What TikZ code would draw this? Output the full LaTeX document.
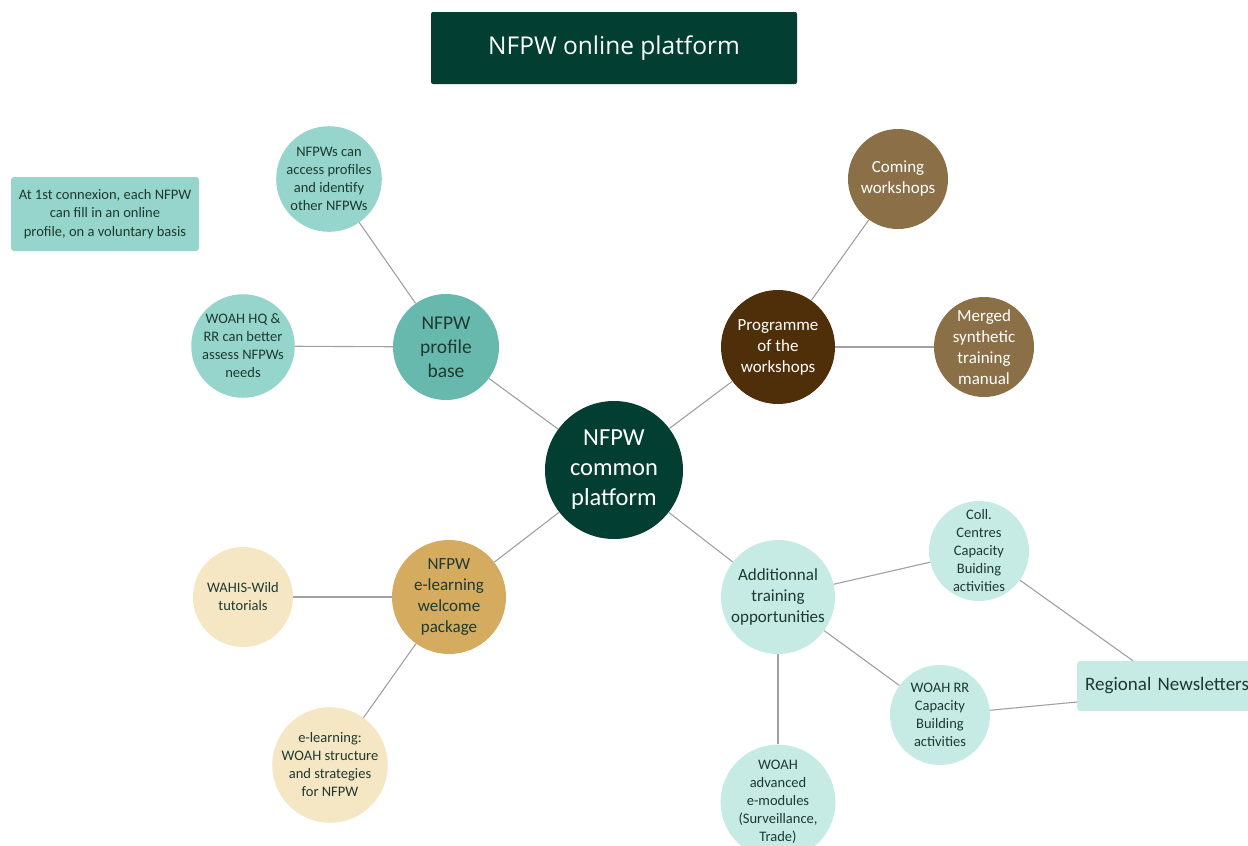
\documentclass[tikz,border=0pt]{standalone}
\usepackage{fontspec}
\setmainfont{Carlito}
\newfontfamily\titlefont{Open Sans}
\definecolor{dkgreen}{HTML}{023E31}
\definecolor{tealmid}{HTML}{67B8AD}
\definecolor{teallight}{HTML}{95D5CB}
\definecolor{browndark}{HTML}{4F2E0A}
\definecolor{brownmid}{HTML}{8B6F47}
\definecolor{gold}{HTML}{D4AB5F}
\definecolor{cream}{HTML}{F5E6C4}
\definecolor{paleaqua}{HTML}{C6EAE4}
\definecolor{txtdark}{HTML}{1E3A2F}
\definecolor{linegray}{HTML}{A0A0A0}
\begin{document}
\begin{tikzpicture}[x=1pt,y=-1pt,
  bub/.style={circle,inner sep=0pt,align=center,text=txtdark},
  small/.style={bub,minimum size=100pt,font=\fontsize{14.5}{18}\selectfont},
  mid/.style={bub,minimum size=114pt,font=\fontsize{17}{21}\selectfont},
  conn/.style={draw=linegray,line width=1.1pt}]
\useasboundingbox (0,0) rectangle (1248,846);
% title
\node[fill=dkgreen,rounded corners=2pt,minimum width=366pt,minimum height=72pt,
  text=white,font=\titlefont\fontsize{24.5}{29}\selectfont] (title) at (614,48) {NFPW online platform};
% info box
\node[fill=teallight,rounded corners=3pt,minimum width=188pt,minimum height=74pt,
  align=center,text=txtdark,font=\fontsize{14.5}{18.5}\selectfont] (info) at (105,214)
  {At 1st connexion, each NFPW\\can fill in an online\\profile, on a voluntary basis};
% nodes
\node[bub,fill=dkgreen,text=white,minimum size=138pt,font=\fontsize{24.5}{30}\selectfont] (center) at (614,470) {NFPW\\common\\platform};
\node[bub,fill=tealmid,minimum size=106pt,font=\fontsize{19.5}{24}\selectfont] (profile) at (446,347) {NFPW\\profile\\base};
\node[small,fill=teallight] (access) at (329,179) {NFPWs can\\access profiles\\and identify\\other NFPWs};
\node[small,fill=teallight] (hq) at (243,346) {WOAH HQ \&\\RR can better\\assess NFPWs\\needs};
\node[mid,fill=browndark,text=white] (prog) at (778,347) {Programme\\of the\\workshops};
\node[small,fill=brownmid,text=white,font=\fontsize{17}{21}\selectfont] (coming) at (898,179) {Coming\\workshops};
\node[small,fill=brownmid,text=white,font=\fontsize{17}{21}\selectfont] (merged) at (984,347) {Merged\\synthetic\\training\\manual};
\node[mid,fill=gold] (elearn) at (449,597) {NFPW\\e-learning\\welcome\\package};
\node[small,fill=cream] (wahis) at (243,597) {WAHIS-Wild\\tutorials};
\node[small,fill=cream] (struct) at (330,765) {e-learning:\\WOAH structure\\and strategies\\for NFPW};
\node[mid,fill=paleaqua] (add) at (778,597) {Additionnal\\training\\opportunities};
\node[small,fill=paleaqua] (coll) at (979,551) {Coll.\\Centres\\Capacity\\Buiding\\activities};
\node[small,fill=paleaqua] (rr) at (940,715) {WOAH RR\\Capacity\\Building\\activities};
\node[small,fill=paleaqua] (adv) at (778,802) {WOAH\\advanced\\e-modules\\(Surveillance,\\Trade)};
\node[fill=paleaqua,rounded corners=3pt,minimum width=190pt,minimum height=50pt,
  text=txtdark,font=\fontsize{19}{23}\selectfont,anchor=west,inner xsep=8pt,
  text width=174pt,align=left] (reg) at (1077,686) {Regional Newsletters};
% connectors
\path[conn] (center) -- (profile);
\path[conn] (center) -- (prog);
\path[conn] (center) -- (elearn);
\path[conn] (center) -- (add);
\path[conn] (profile) -- (access);
\path[conn] (profile) -- (hq);
\path[conn] (prog) -- (coming);
\path[conn] (prog) -- (merged);
\path[conn] (elearn) -- (wahis);
\path[conn] (elearn) -- (struct);
\path[conn] (add) -- (coll);
\path[conn] (add) -- (rr);
\path[conn] (add) -- (adv);
\coordinate (regtop) at ([xshift=56pt]reg.north west);
\coordinate (regleft) at ([yshift=-16pt]reg.west);
\path[conn] (coll) -- (regtop);
\path[conn] (rr) -- (regleft);
\end{tikzpicture}
\end{document}
